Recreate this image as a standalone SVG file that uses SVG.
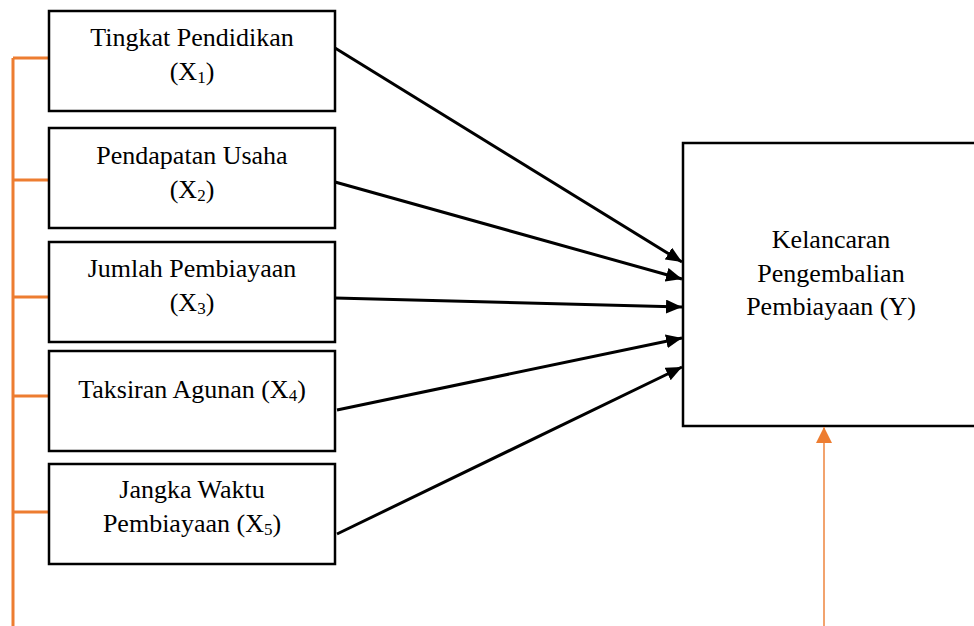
<svg xmlns="http://www.w3.org/2000/svg" width="974" height="626" viewBox="0 0 974 626">
<style>
.box{fill:#fff;stroke:#000;stroke-width:2.5}
.t{font-family:"Liberation Serif","Times New Roman",serif;font-size:26px;fill:#000;text-anchor:middle}
.sub{font-size:17px}
.c{stroke:#000;stroke-width:3;fill:none}
.o{stroke:#ED7D31;stroke-width:3;fill:none}
</style>
<defs>
<marker id="ah" markerUnits="userSpaceOnUse" markerWidth="16" markerHeight="14" refX="16" refY="7" orient="auto">
<path d="M0,0 L16,7 L0,14 Z" fill="#000"/>
</marker>
<marker id="oh" markerUnits="userSpaceOnUse" markerWidth="16" markerHeight="16" refX="16" refY="8" orient="auto">
<path d="M0,0 L16,8 L0,16 Z" fill="#ED7D31"/>
</marker>
</defs>
<rect width="974" height="626" fill="#fff"/>
<g id="bracket">
<path class="o" d="M13,626 V58 M13,58 H49 M13,180 H49 M13,297 H49 M13,396 H49 M13,512 H49"/>
</g>
<g id="x1">
<rect class="box" x="49" y="11" width="286" height="100"/>
<text class="t" x="192" y="46">Tingkat Pendidikan</text>
<text class="t" x="192" y="80">(X<tspan class="sub" dy="3">1</tspan><tspan dy="-3">)</tspan></text>
</g>
<g id="x2">
<rect class="box" x="49" y="128" width="286" height="100"/>
<text class="t" x="192" y="164">Pendapatan Usaha</text>
<text class="t" x="192" y="198">(X<tspan class="sub" dy="3">2</tspan><tspan dy="-3">)</tspan></text>
</g>
<g id="x3">
<rect class="box" x="49" y="242" width="286" height="100"/>
<text class="t" x="192" y="277">Jumlah Pembiayaan</text>
<text class="t" x="192" y="311">(X<tspan class="sub" dy="3">3</tspan><tspan dy="-3">)</tspan></text>
</g>
<g id="x4">
<rect class="box" x="49" y="351" width="286" height="100"/>
<text class="t" x="192" y="398">Taksiran Agunan (X<tspan class="sub" dy="3">4</tspan><tspan dy="-3">)</tspan></text>
</g>
<g id="x5">
<rect class="box" x="49" y="464" width="286" height="100"/>
<text class="t" x="192" y="498">Jangka Waktu</text>
<text class="t" x="192" y="532">Pembiayaan (X<tspan class="sub" dy="3">5</tspan><tspan dy="-3">)</tspan></text>
</g>
<g id="y">
<rect class="box" x="683" y="143" width="300" height="283"/>
<text class="t" x="831" y="248">Kelancaran</text>
<text class="t" x="831" y="282">Pengembalian</text>
<text class="t" x="831" y="315">Pembiayaan (Y)</text>
</g>
<g id="connectors">
<line class="c" x1="335" y1="48" x2="682" y2="262" marker-end="url(#ah)"/>
<line class="c" x1="335" y1="182" x2="682" y2="279" marker-end="url(#ah)"/>
<line class="c" x1="335" y1="298" x2="682" y2="307" marker-end="url(#ah)"/>
<line class="c" x1="337" y1="410" x2="682" y2="338" marker-end="url(#ah)"/>
<line class="c" x1="337" y1="534" x2="682" y2="367" marker-end="url(#ah)"/>
<line x1="824" y1="626" x2="824" y2="427" stroke="#F2A36E" stroke-width="2" marker-end="url(#oh)"/>
</g>
</svg>
